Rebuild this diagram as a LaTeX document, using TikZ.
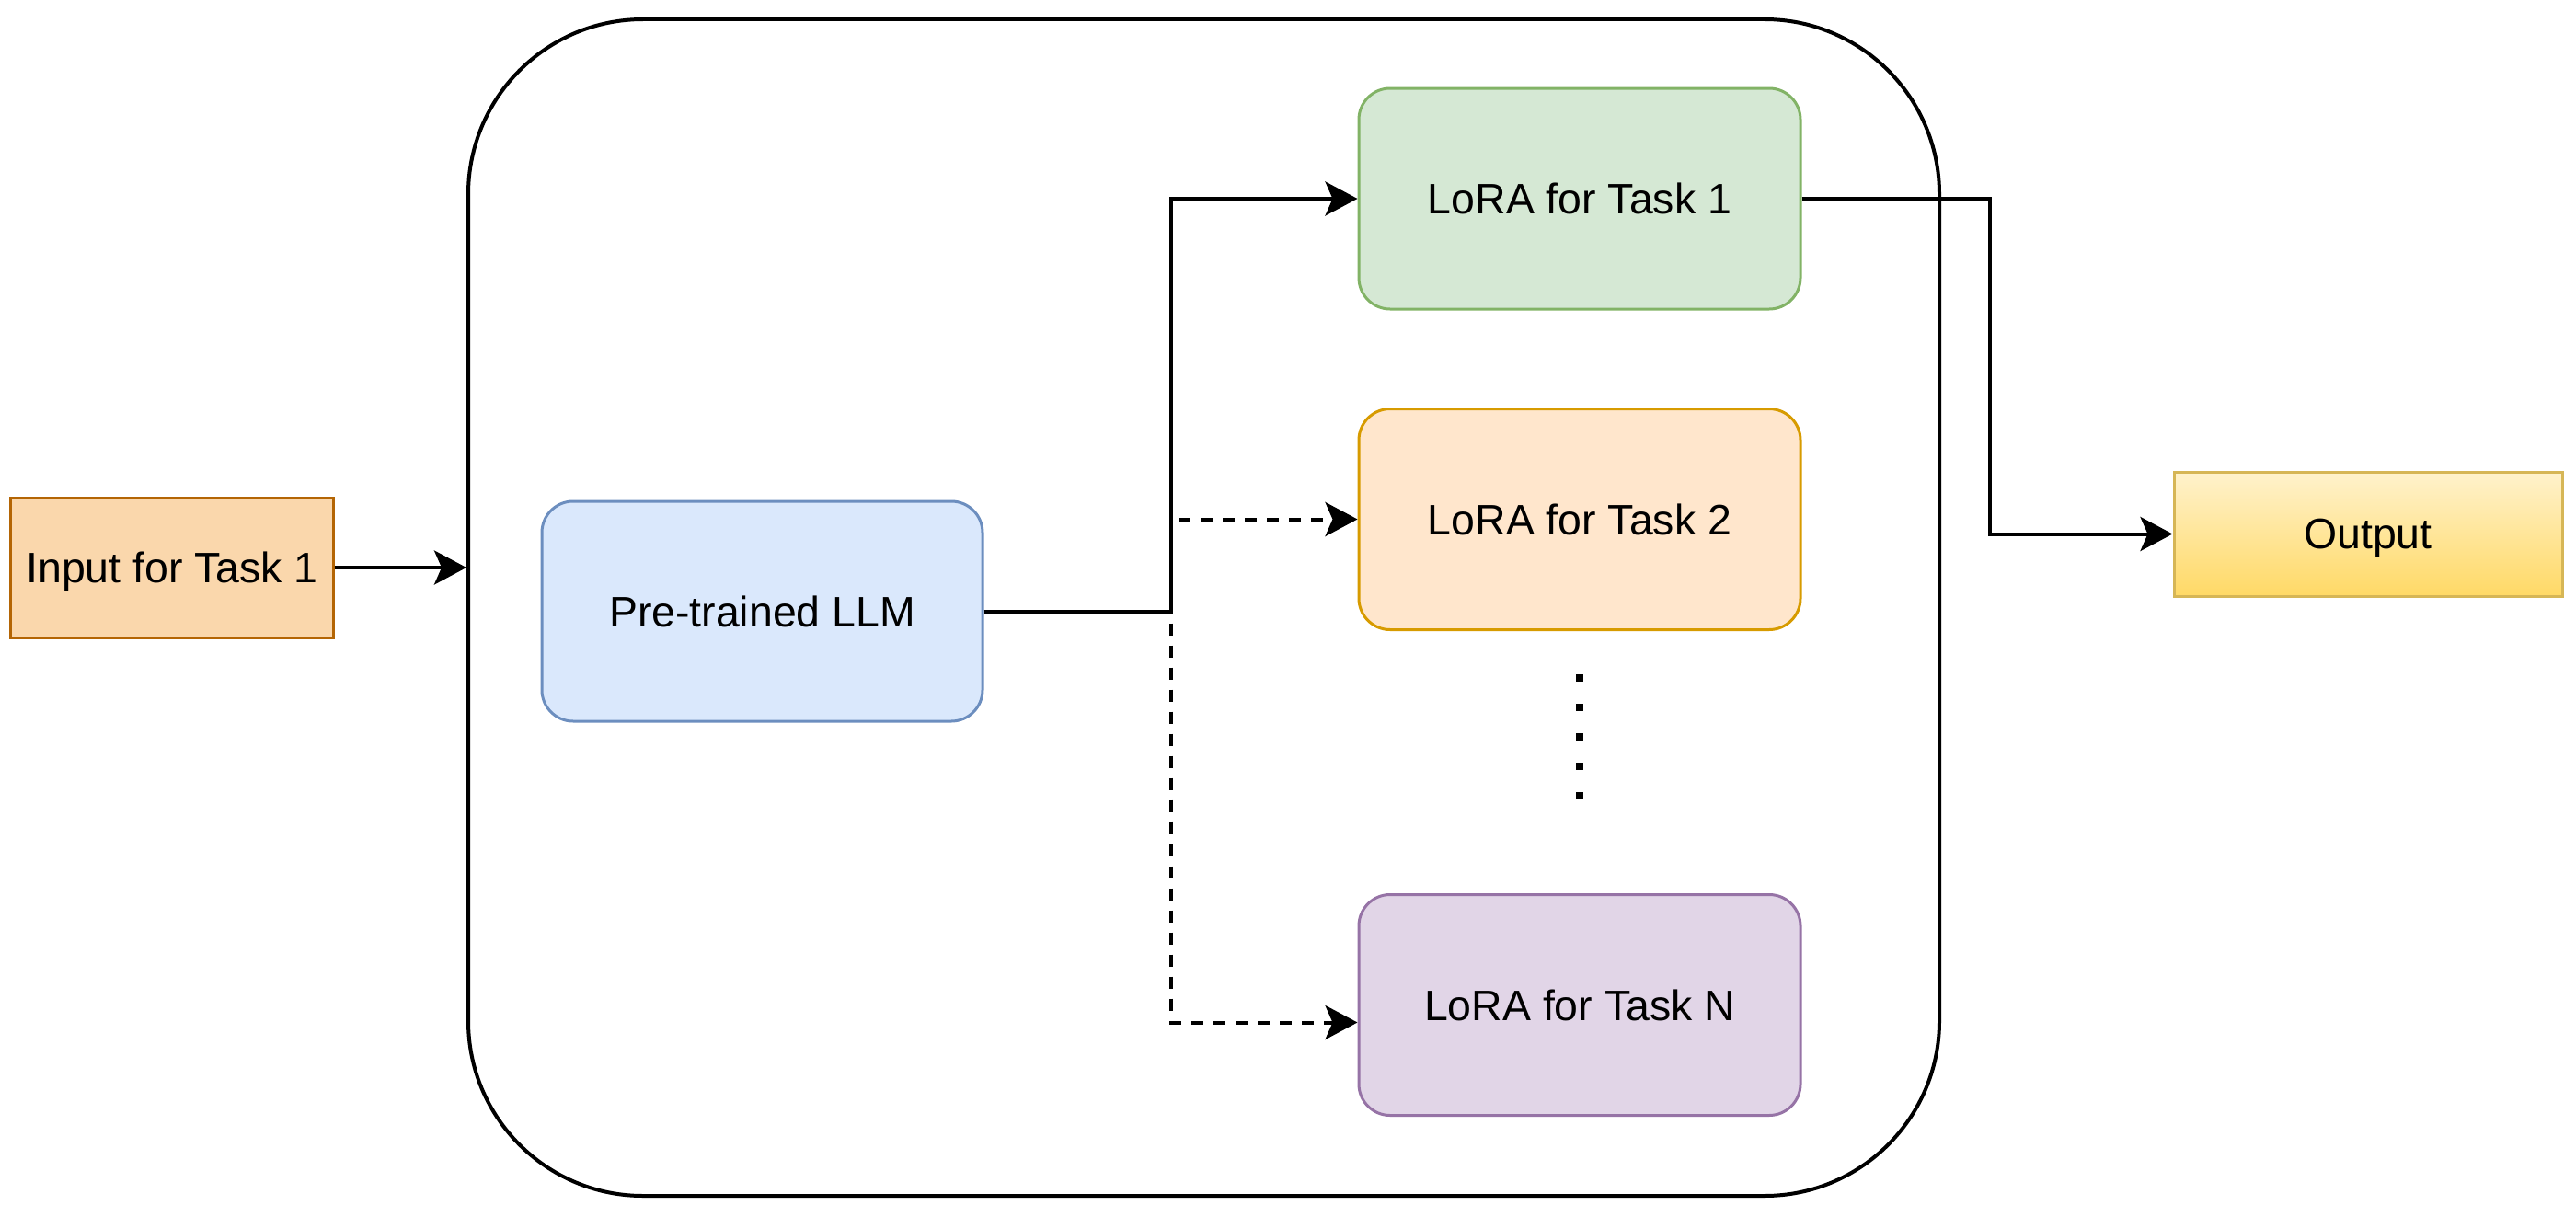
\documentclass[tikz,border=0pt]{standalone}
\usepackage{fontspec}
\setmainfont{Liberation Sans}
\usetikzlibrary{arrows.meta}

\definecolor{inFill}{HTML}{FAD7AC}
\definecolor{inLine}{HTML}{B46504}
\definecolor{llmFill}{HTML}{DAE8FC}
\definecolor{llmLine}{HTML}{6C8EBF}
\definecolor{oneFill}{HTML}{D5E8D4}
\definecolor{oneLine}{HTML}{82B366}
\definecolor{twoFill}{HTML}{FFE6CC}
\definecolor{twoLine}{HTML}{D79B00}
\definecolor{enFill}{HTML}{E1D5E7}
\definecolor{enLine}{HTML}{9673A6}
\definecolor{outTop}{HTML}{FFF2CC}
\definecolor{outBot}{HTML}{FFD966}
\definecolor{outLine}{HTML}{D6B656}

\tikzset{
  box/.style={draw, line width=0.03cm, inner sep=0pt, align=center, text depth=0pt,
    font=\fontsize{13.2}{15.8}\selectfont},
  taskbox/.style={box, rounded corners=0.34cm, minimum width=4.8cm, minimum height=2.4cm},
  flow/.style={line width=0.04cm, -{Stealth[length=0.35cm, width=0.37cm, inset=0.08cm]}},
  maybe/.style={flow, dash pattern=on 0.13cm off 0.11cm}
}

\begin{document}
\begin{tikzpicture}
			%%%%% START %%%%%
			\useasboundingbox (0, 0) rectangle (28, -13.22);
			
			\node[draw, line width=0.04cm, rounded corners=1.9cm, minimum width=15.99cm, minimum height=12.79cm] (frame) at (13.085, -6.605) {};
			
			\node[box, fill=inFill, draw=inLine, minimum width=3.5cm, minimum height=1.52cm] (input) at (1.87, -6.17) {Input for Task 1};
			\node[taskbox, fill=llmFill, draw=llmLine, minimum width=4.79cm, minimum height=2.39cm] (llm) at (8.285, -6.645) {Pre-trained LLM};
			
			\node[taskbox, fill=oneFill, draw=oneLine] (lora1) at (17.17, -2.16) {LoRA for Task 1};
			\node[taskbox, fill=twoFill, draw=twoLine] (lora2) at (17.17, -5.645) {LoRA for Task 2};
			\node[taskbox, fill=enFill, draw=enLine] (loraN) at (17.17, -10.925) {LoRA for Task N};
			
			\node[box, top color=outTop, bottom color=outBot, draw=outLine, minimum width=4.22cm, minimum height=1.35cm] (output) at (25.74, -5.805) {Output};
			
			\draw[line width=0.08cm, dash pattern=on 0.08cm off 0.24cm] (17.17, -7.33) -- (17.17, -8.69);
			
			\coordinate (split) at (12.73, -6.645);
			
			\draw[flow] (input.east) -- (input.east -| frame.west);
			\draw[flow] (llm.east) -- (split) |- (lora1.west);
			\draw[maybe] ([xshift=0.08cm]split |- lora2.west) -- (lora2.west);
			\draw[maybe, dash phase=-0.13cm] (split) |- ([yshift=-0.19cm]loraN.west);
			\draw[flow] (lora1.east) -- ++(2.04, 0) |- (output.west);
			
			%%%%% END %%%%%
\end{tikzpicture}
\end{document}
